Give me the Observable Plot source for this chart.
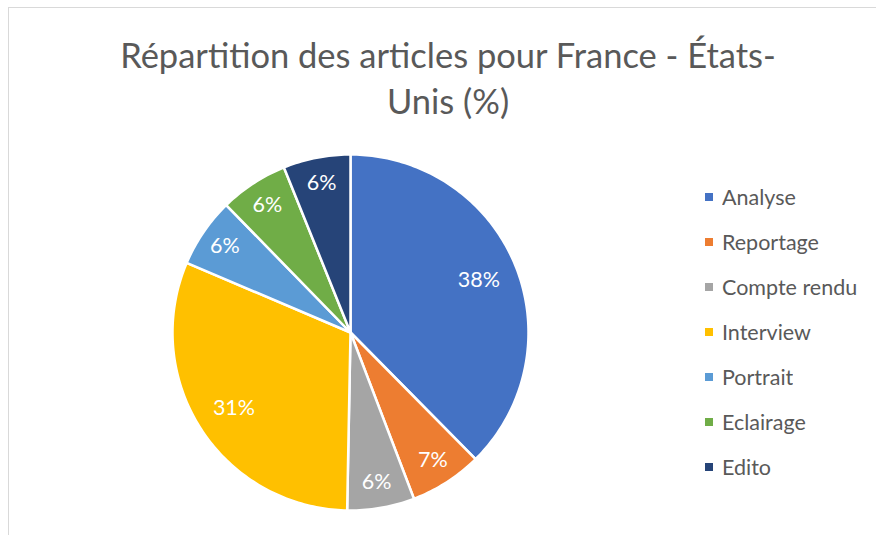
<!DOCTYPE html>
<html>
<head>
<meta charset="utf-8">
<script src="https://cdn.jsdelivr.net/npm/d3@7"></script>
<script src="https://cdn.jsdelivr.net/npm/@observablehq/plot@0.6"></script>
<style>
  html, body { margin: 0; padding: 0; background: #fff; }
  #chart { position: relative; width: 876px; height: 535px; overflow: hidden; background: #fff; font-family: Lato, "Open Sans", sans-serif; }
  #frame { position: absolute; left: 8px; top: 7px; width: 900px; height: 560px; border-left: 1.5px solid #d9d9d9; border-top: 1.5px solid #d9d9d9; }
  #title { position: absolute; left: 48px; top: 32px; width: 800px; text-align: center; color: #595959; font-size: 34.5px; line-height: 46px; font-weight: 400; }
  #pie { position: absolute; left: 170px; top: 152px; }
  #legend { position: absolute; left: 705px; top: 174px; }
  #legend .lg-swatch { height: 45px; display: flex; align-items: center; margin: 0; padding: 0; }
  #legend .lg-swatch svg { margin-right: 9px; }
</style>
</head>
<body>
<div id="chart">
  <div id="frame"></div>
  <div id="title">Répartition des articles pour France - États-<br>Unis (%)</div>
  <div id="pie"></div>
  <div id="legend"></div>
</div>
<script>
const categories = ["Analyse", "Reportage", "Compte rendu", "Interview", "Portrait", "Eclairage", "Edito"];
const values = [37.6, 6.6, 6.1, 31.1, 6.3, 6.2, 6.1];
const colors = ["#4472C4", "#ED7D31", "#A5A5A5", "#FFC000", "#5B9BD5", "#70AD47", "#264478"];

const rows = categories.map((c, i) => ({cat: c, value: values[i]}));
const arcs = d3.pie().sort(null).value(d => d.value)(rows);

// polygon points for each slice (unit circle, angle clockwise from 12 o'clock)
const pts = [];
for (const a of arcs) {
  const cat = a.data.cat;
  pts.push({cat, x: 0, y: 0});
  const n = Math.max(2, Math.ceil((a.endAngle - a.startAngle) / (Math.PI / 180)));
  for (let k = 0; k <= n; k++) {
    const t = a.startAngle + (a.endAngle - a.startAngle) * k / n;
    pts.push({cat, x: Math.sin(t), y: Math.cos(t)});
  }
  pts.push({cat, x: 0, y: 0});
}

const labels = arcs.map(a => {
  const mid = (a.startAngle + a.endAngle) / 2;
  const r = a.data.value > 20 ? 0.78 : 0.855;
  return {x: r * Math.sin(mid), y: r * Math.cos(mid), text: Math.round(a.data.value) + "%"};
});

const colorScale = {domain: categories, range: colors};

const pie = Plot.plot({
  width: 360,
  height: 360,
  margin: 2,
  x: {domain: [-1, 1], axis: null},
  y: {domain: [-1, 1], axis: null},
  color: colorScale,
  style: {background: "transparent", overflow: "visible"},
  marks: [
    Plot.line(pts, {x: "x", y: "y", z: "cat", fill: "cat", stroke: "white", strokeWidth: 2.5, strokeLinejoin: "round", curve: "linear"}),
    Plot.text(labels, {x: "x", y: "y", text: "text", fill: "white", fontSize: 21.5, fontFamily: "Lato, sans-serif"})
  ]
});
document.getElementById("pie").appendChild(pie);

const legend = Plot.legend({
  color: colorScale,
  legend: "swatches",
  columns: 1,
  swatchSize: 8,
  className: "lg",
  style: {fontSize: "21.5px", fontFamily: "Lato, sans-serif", color: "#595959"}
});
document.getElementById("legend").appendChild(legend);
</script>
</body>
</html>
